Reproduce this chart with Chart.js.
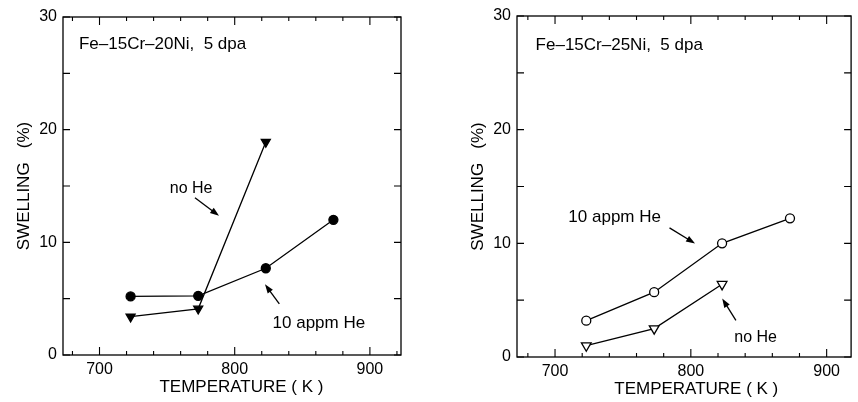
<!DOCTYPE html>
<html>
<head>
<meta charset="utf-8">
<script src="https://cdn.jsdelivr.net/npm/chart.js@4/dist/chart.umd.min.js"></script>
<style>
  body { margin: 0; background: #fff; }
  .wrap { position: relative; width: 858px; height: 402px; }
  canvas { position: absolute; top: 0; }
</style>
</head>
<body>
<div class="wrap">
  <canvas id="left" width="429" height="402" style="left:0"></canvas>
  <canvas id="right" width="429" height="402" style="left:429px"></canvas>
</div>
<script>
// temperatures (K)
const temps = [723, 773, 823, 873];
// Fe-15Cr-20Ni, swelling (%)
const ni20He = [5.2, 5.25, 7.7, 12.0];
const ni20NoHe = [3.4, 4.1, 18.9];
// Fe-15Cr-25Ni, swelling (%)
const ni25He = [3.2, 5.7, 10.0, 12.2];
const ni25NoHe = [1.0, 2.5, 6.4];

const xTicks = [700, 800, 900];
const xMinor = [680, 720, 740, 760, 780, 820, 840, 860, 880, 920];
const yTicks = [0, 10, 20, 30];
const yMinor = [5, 15, 25];

const FONT = "'Liberation Sans', Arial, Helvetica, sans-serif";

const pts = (vals) => vals.map((v, i) => ({ x: temps[i], y: v }));

// frame, inward ticks, labels and arrows
const decor = {
    id: 'decor',
    afterDraw(chart, args, opts) {
        const { ctx, chartArea: a, scales: { x, y } } = chart;
        ctx.save();
        ctx.strokeStyle = '#000';
        ctx.lineWidth = 1.3;
        ctx.strokeRect(a.left, a.top, a.right - a.left, a.bottom - a.top);

        ctx.lineWidth = 1.1;
        const tickX = (v, len) => {
            const px = x.getPixelForValue(v);
            if (px < a.left || px > a.right) return;
            ctx.beginPath();
            ctx.moveTo(px, a.bottom); ctx.lineTo(px, a.bottom - len);
            ctx.moveTo(px, a.top); ctx.lineTo(px, a.top + len);
            ctx.stroke();
        };
        const tickY = (v, len) => {
            const py = y.getPixelForValue(v);
            ctx.beginPath();
            ctx.moveTo(a.left, py); ctx.lineTo(a.left + len, py);
            ctx.moveTo(a.right, py); ctx.lineTo(a.right - len, py);
            ctx.stroke();
        };
        xTicks.forEach(v => tickX(v, 8));
        xMinor.forEach(v => tickX(v, 4));
        yTicks.forEach(v => tickY(v, 7));
        yMinor.forEach(v => tickY(v, 7));

        ctx.fillStyle = '#000';
        ctx.textBaseline = 'middle';
        ctx.textAlign = 'left';
        opts.labels.forEach(l => {
            ctx.font = l.size + 'px ' + FONT;
            ctx.fillText(l.text, x.getPixelForValue(l.x), y.getPixelForValue(l.y));
        });

        opts.arrows.forEach(ar => {
            const x1 = x.getPixelForValue(ar[0]), y1 = y.getPixelForValue(ar[1]);
            const x2 = x.getPixelForValue(ar[2]), y2 = y.getPixelForValue(ar[3]);
            const ang = Math.atan2(y2 - y1, x2 - x1);
            const hl = 9, hw = 3.2;
            ctx.lineWidth = 1.3;
            ctx.beginPath();
            ctx.moveTo(x1, y1);
            ctx.lineTo(x2 - Math.cos(ang) * hl * 0.8, y2 - Math.sin(ang) * hl * 0.8);
            ctx.stroke();
            ctx.beginPath();
            ctx.moveTo(x2, y2);
            ctx.lineTo(x2 - Math.cos(ang) * hl - Math.sin(ang) * hw, y2 - Math.sin(ang) * hl + Math.cos(ang) * hw);
            ctx.lineTo(x2 - Math.cos(ang) * hl + Math.sin(ang) * hw, y2 - Math.sin(ang) * hl - Math.cos(ang) * hw);
            ctx.closePath();
            ctx.fill();
        });

        // x axis title
        ctx.font = '17px ' + FONT;
        ctx.textAlign = 'center';
        ctx.fillText('TEMPERATURE ( K )', x.getPixelForValue(opts.titleX), a.bottom + 32);
        ctx.restore();
    }
};

function makeChart(id, cfg) {
    return new Chart(document.getElementById(id), {
        type: 'line',
        data: {
            datasets: [
                {
                    data: pts(cfg.he),
                    borderColor: '#000', borderWidth: 1.3,
                    pointStyle: 'circle', pointRadius: 4.5,
                    pointBackgroundColor: cfg.open ? '#fff' : '#000',
                    pointBorderColor: '#000', pointBorderWidth: 1.3
                },
                {
                    data: pts(cfg.noHe),
                    borderColor: '#000', borderWidth: 1.3,
                    pointStyle: 'triangle', pointRotation: 180, pointRadius: cfg.open ? 5.6 : 5.2,
                    pointBackgroundColor: cfg.open ? '#fff' : '#000',
                    pointBorderColor: '#000', pointBorderWidth: 1.3
                }
            ]
        },
        options: {
            responsive: false,
            animation: false,
            devicePixelRatio: 1,
            layout: { padding: cfg.pad },
            plugins: {
                legend: { display: false },
                tooltip: { enabled: false },
                decor: { labels: cfg.labels, arrows: cfg.arrows, titleX: cfg.titleX }
            },
            scales: {
                x: {
                    type: 'linear', min: cfg.xMin, max: cfg.xMax,
                    grid: { display: false, drawTicks: false },
                    border: { display: false },
                    afterBuildTicks: s => { s.ticks = xTicks.map(v => ({ value: v })); },
                    afterFit: s => { s.height = cfg.xH; },
                    ticks: { color: '#000', padding: 5, font: { family: FONT, size: 16 } }
                },
                y: {
                    type: 'linear', min: 0, max: 30,
                    grid: { display: false, drawTicks: false },
                    border: { display: false },
                    afterBuildTicks: s => { s.ticks = yTicks.map(v => ({ value: v })); },
                    afterFit: s => { s.width = cfg.yW; },
                    ticks: { color: '#000', padding: 6, font: { family: FONT, size: 16 } },
                    title: {
                        display: true, text: 'SWELLING   (%)', color: '#000',
                        font: { family: FONT, size: 17 }, padding: { top: cfg.yTitlePad, bottom: 0 }
                    }
                }
            }
        },
        plugins: [decor]
    });
}

makeChart('left', {
    he: ni20He, noHe: ni20NoHe, open: false,
    xMin: 673, xMax: 923, yW: 63, xH: 47, yTitlePad: 14,
    pad: { left: 0, top: 17, right: 28, bottom: 0 },
    titleX: 805,
    labels: [
        { text: 'Fe\u201315Cr\u201320Ni,  5 dpa', x: 684.8, y: 27.6, size: 17 },
        { text: 'no He', x: 752, y: 14.8, size: 16 },
        { text: '10 appm He', x: 828, y: 2.84, size: 17 }
    ],
    arrows: [
        [770.6, 13.96, 788.4, 12.36],
        [833, 4.53, 822.4, 6.28]
    ]
});

makeChart('right', {
    he: ni25He, noHe: ni25NoHe, open: true,
    xMin: 672, xMax: 918, yW: 88, xH: 45, yTitlePad: 39,
    pad: { left: 0, top: 16, right: 1, bottom: 0 },
    titleX: 804,
    labels: [
        { text: 'Fe\u201315Cr\u201325Ni,  5 dpa', x: 685.7, y: 27.4, size: 17 },
        { text: '10 appm He', x: 709.8, y: 12.32, size: 17 },
        { text: 'no He', x: 832, y: 1.67, size: 16 }
    ],
    arrows: [
        [784.3, 11.36, 803.1, 9.98],
        [833.2, 3.23, 823.1, 5.14]
    ]
});
</script>
</body>
</html>
